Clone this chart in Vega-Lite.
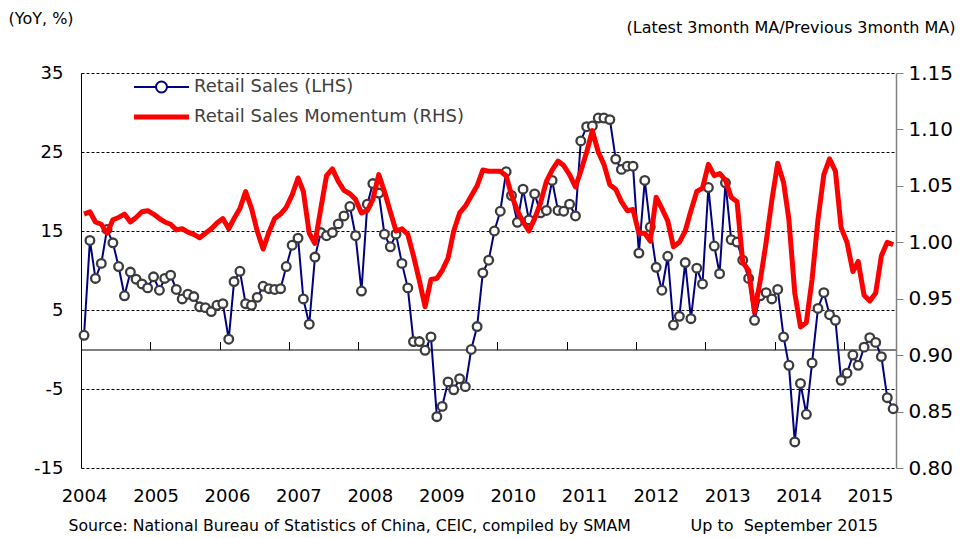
{
  "$schema": "https://vega.github.io/schema/vega-lite/v6.json",
  "width": 815,
  "height": 395,
  "autosize": "none",
  "padding": {"left": 81, "top": 73, "right": 75, "bottom": 70},
  "background": "white",
  "config": {"view": {"stroke": null}, "font": "DejaVu Sans"},
  "data": {"values": [
    {"month":"2004-01-01","rs":1.8,"mom":1.025},{"month":"2004-02-01","rs":13.8,"mom":1.027},{"month":"2004-03-01","rs":9.0,"mom":1.018},{"month":"2004-04-01","rs":10.9,"mom":1.016},{"month":"2004-05-01","rs":15.2,"mom":1.008},{"month":"2004-06-01","rs":13.5,"mom":1.020},{"month":"2004-07-01","rs":10.5,"mom":1.022},{"month":"2004-08-01","rs":6.8,"mom":1.025},{"month":"2004-09-01","rs":9.8,"mom":1.018},{"month":"2004-10-01","rs":8.9,"mom":1.022},{"month":"2004-11-01","rs":8.3,"mom":1.027},{"month":"2004-12-01","rs":7.8,"mom":1.028},
    {"month":"2005-01-01","rs":9.2,"mom":1.025},{"month":"2005-02-01","rs":7.5,"mom":1.021},{"month":"2005-03-01","rs":9.0,"mom":1.018},{"month":"2005-04-01","rs":9.4,"mom":1.016},{"month":"2005-05-01","rs":7.6,"mom":1.011},{"month":"2005-06-01","rs":6.4,"mom":1.012},{"month":"2005-07-01","rs":7.0,"mom":1.009},{"month":"2005-08-01","rs":6.7,"mom":1.007},{"month":"2005-09-01","rs":5.4,"mom":1.004},{"month":"2005-10-01","rs":5.3,"mom":1.008},{"month":"2005-11-01","rs":4.8,"mom":1.012},{"month":"2005-12-01","rs":5.6,"mom":1.017},
    {"month":"2006-01-01","rs":5.8,"mom":1.021},{"month":"2006-02-01","rs":1.3,"mom":1.012},{"month":"2006-03-01","rs":8.6,"mom":1.021},{"month":"2006-04-01","rs":9.9,"mom":1.030},{"month":"2006-05-01","rs":5.8,"mom":1.045},{"month":"2006-06-01","rs":5.6,"mom":1.030},{"month":"2006-07-01","rs":6.6,"mom":1.010},{"month":"2006-08-01","rs":8.0,"mom":0.994},{"month":"2006-09-01","rs":7.7,"mom":1.009},{"month":"2006-10-01","rs":7.6,"mom":1.021},{"month":"2006-11-01","rs":7.7,"mom":1.025},{"month":"2006-12-01","rs":10.5,"mom":1.031},
    {"month":"2007-01-01","rs":13.2,"mom":1.042},{"month":"2007-02-01","rs":14.1,"mom":1.057},{"month":"2007-03-01","rs":6.4,"mom":1.045},{"month":"2007-04-01","rs":3.2,"mom":1.008},{"month":"2007-05-01","rs":11.7,"mom":0.999},{"month":"2007-06-01","rs":14.8,"mom":1.030},{"month":"2007-07-01","rs":14.4,"mom":1.059},{"month":"2007-08-01","rs":14.8,"mom":1.065},{"month":"2007-09-01","rs":15.9,"mom":1.054},{"month":"2007-10-01","rs":16.9,"mom":1.046},{"month":"2007-11-01","rs":18.1,"mom":1.043},{"month":"2007-12-01","rs":14.4,"mom":1.038},
    {"month":"2008-01-01","rs":7.4,"mom":1.026},{"month":"2008-02-01","rs":18.4,"mom":1.028},{"month":"2008-03-01","rs":21.0,"mom":1.038},{"month":"2008-04-01","rs":19.8,"mom":1.060},{"month":"2008-05-01","rs":14.6,"mom":1.045},{"month":"2008-06-01","rs":13.0,"mom":1.027},{"month":"2008-07-01","rs":14.6,"mom":1.010},{"month":"2008-08-01","rs":10.9,"mom":1.012},{"month":"2008-09-01","rs":7.8,"mom":1.007},{"month":"2008-10-01","rs":1.0,"mom":0.988},{"month":"2008-11-01","rs":1.0,"mom":0.966},{"month":"2008-12-01","rs":-0.1,"mom":0.943},
    {"month":"2009-01-01","rs":1.6,"mom":0.967},{"month":"2009-02-01","rs":-8.5,"mom":0.968},{"month":"2009-03-01","rs":-7.2,"mom":0.975},{"month":"2009-04-01","rs":-4.1,"mom":0.986},{"month":"2009-05-01","rs":-5.1,"mom":1.010},{"month":"2009-06-01","rs":-3.7,"mom":1.026},{"month":"2009-07-01","rs":-4.7,"mom":1.032},{"month":"2009-08-01","rs":0.0,"mom":1.041},{"month":"2009-09-01","rs":2.9,"mom":1.050},{"month":"2009-10-01","rs":9.7,"mom":1.064},{"month":"2009-11-01","rs":11.3,"mom":1.063},{"month":"2009-12-01","rs":15.0,"mom":1.063},
    {"month":"2010-01-01","rs":17.5,"mom":1.063},{"month":"2010-02-01","rs":22.5,"mom":1.059},{"month":"2010-03-01","rs":19.5,"mom":1.042},{"month":"2010-04-01","rs":16.1,"mom":1.028},{"month":"2010-05-01","rs":20.3,"mom":1.018},{"month":"2010-06-01","rs":16.4,"mom":1.010},{"month":"2010-07-01","rs":19.7,"mom":1.021},{"month":"2010-08-01","rs":17.3,"mom":1.035},{"month":"2010-09-01","rs":17.6,"mom":1.054},{"month":"2010-10-01","rs":21.4,"mom":1.064},{"month":"2010-11-01","rs":17.6,"mom":1.072},{"month":"2010-12-01","rs":17.5,"mom":1.068},
    {"month":"2011-01-01","rs":18.4,"mom":1.060},{"month":"2011-02-01","rs":16.9,"mom":1.049},{"month":"2011-03-01","rs":26.4,"mom":1.063},{"month":"2011-04-01","rs":28.2,"mom":1.080},{"month":"2011-05-01","rs":28.3,"mom":1.099},{"month":"2011-06-01","rs":29.3,"mom":1.080},{"month":"2011-07-01","rs":29.3,"mom":1.069},{"month":"2011-08-01","rs":29.1,"mom":1.051},{"month":"2011-09-01","rs":24.1,"mom":1.047},{"month":"2011-10-01","rs":22.8,"mom":1.036},{"month":"2011-11-01","rs":23.2,"mom":1.028},{"month":"2011-12-01","rs":23.2,"mom":1.029},
    {"month":"2012-01-01","rs":12.2,"mom":1.008},{"month":"2012-02-01","rs":21.4,"mom":1.008},{"month":"2012-03-01","rs":15.5,"mom":1.001},{"month":"2012-04-01","rs":10.4,"mom":1.040},{"month":"2012-05-01","rs":7.5,"mom":1.030},{"month":"2012-06-01","rs":11.8,"mom":1.019},{"month":"2012-07-01","rs":3.1,"mom":0.996},{"month":"2012-08-01","rs":4.2,"mom":1.000},{"month":"2012-09-01","rs":11.0,"mom":1.010},{"month":"2012-10-01","rs":3.9,"mom":1.028},{"month":"2012-11-01","rs":10.3,"mom":1.045},{"month":"2012-12-01","rs":8.3,"mom":1.048},
    {"month":"2013-01-01","rs":20.5,"mom":1.069},{"month":"2013-02-01","rs":13.1,"mom":1.059},{"month":"2013-03-01","rs":9.6,"mom":1.061},{"month":"2013-04-01","rs":21.1,"mom":1.055},{"month":"2013-05-01","rs":13.9,"mom":1.040},{"month":"2013-06-01","rs":13.6,"mom":1.036},{"month":"2013-07-01","rs":11.3,"mom":0.982},{"month":"2013-08-01","rs":9.0,"mom":0.975},{"month":"2013-09-01","rs":3.7,"mom":0.938},{"month":"2013-10-01","rs":6.8,"mom":0.966},{"month":"2013-11-01","rs":7.2,"mom":1.000},{"month":"2013-12-01","rs":6.4,"mom":1.037},
    {"month":"2014-01-01","rs":7.6,"mom":1.070},{"month":"2014-02-01","rs":1.6,"mom":1.053},{"month":"2014-03-01","rs":-2.0,"mom":1.020},{"month":"2014-04-01","rs":-11.7,"mom":0.955},{"month":"2014-05-01","rs":-4.3,"mom":0.925},{"month":"2014-06-01","rs":-8.2,"mom":0.929},{"month":"2014-07-01","rs":-1.7,"mom":0.967},{"month":"2014-08-01","rs":5.2,"mom":1.020},{"month":"2014-09-01","rs":7.2,"mom":1.060},{"month":"2014-10-01","rs":4.4,"mom":1.074},{"month":"2014-11-01","rs":3.7,"mom":1.063},{"month":"2014-12-01","rs":-3.9,"mom":1.013},
    {"month":"2015-01-01","rs":-3.0,"mom":1.000},{"month":"2015-02-01","rs":-0.7,"mom":0.974},{"month":"2015-03-01","rs":-2.0,"mom":0.983},{"month":"2015-04-01","rs":0.3,"mom":0.953},{"month":"2015-05-01","rs":1.5,"mom":0.948},{"month":"2015-06-01","rs":0.9,"mom":0.955},{"month":"2015-07-01","rs":-0.9,"mom":0.988},{"month":"2015-08-01","rs":-6.1,"mom":1.000},{"month":"2015-09-01","rs":-7.5,"mom":0.998}
  ]},
  "layer": [
    {
      "mark": {"type": "line", "strokeWidth": 2},
      "encoding": {
        "x": {
          "field": "month", "type": "temporal",
          "scale": {"type": "utc", "domain": [{"year": 2003, "month": 12, "date": 16, "utc": true}, {"year": 2015, "month": 9, "date": 16, "utc": true}]},
          "axis": {
            "orient": "bottom",
            "values": [
              {"year": 2004, "month": 1, "date": 1, "utc": true},
              {"year": 2005, "month": 1, "date": 12, "utc": true},
              {"year": 2006, "month": 1, "date": 23, "utc": true},
              {"year": 2007, "month": 2, "date": 3, "utc": true},
              {"year": 2008, "month": 2, "date": 14, "utc": true},
              {"year": 2009, "month": 2, "date": 25, "utc": true},
              {"year": 2010, "month": 3, "date": 8, "utc": true},
              {"year": 2011, "month": 3, "date": 19, "utc": true},
              {"year": 2012, "month": 3, "date": 30, "utc": true},
              {"year": 2013, "month": 4, "date": 10, "utc": true},
              {"year": 2014, "month": 4, "date": 21, "utc": true},
              {"year": 2015, "month": 5, "date": 2, "utc": true}
            ],
            "format": "%Y",
            "domain": false, "ticks": false, "tickSize": 0, "grid": false,
            "labelFontSize": 18, "labelColor": "black", "labelPadding": 19,
            "labelFlush": false, "labelOverlap": false,
            "title": "Source: National Bureau of Statistics of China, CEIC, compiled by SMAM",
            "titleX": -13, "titleY": 57, "titleAlign": "left", "titleBaseline": "middle",
            "titleFontSize": 15.7, "titleFontWeight": "normal", "titleColor": "black"
          }
        },
        "y": {
          "field": "rs", "type": "quantitative",
          "scale": {"domain": [-15, 35], "nice": false, "zero": false},
          "axis": {
            "orient": "left",
            "values": [-15, -5, 5, 15, 25, 35],
            "labelExpr": "'' + datum.value",
            "labelFontSize": 18, "labelColor": "black", "labelPadding": 18,
            "ticks": false, "tickSize": 0,
            "domain": true, "domainColor": "black", "domainWidth": 1,
            "grid": true, "gridColor": "black", "gridDash": [3, 2], "gridWidth": 1, "gridOpacity": 1,
            "title": "(YoY, %)", "titleAngle": 0, "titleX": -73, "titleY": -55,
            "titleAlign": "left", "titleBaseline": "middle",
            "titleFontSize": 16, "titleFontWeight": "normal", "titleColor": "black"
          }
        },
        "color": {
          "datum": "Retail Sales (LHS)", "type": "nominal",
          "scale": {"domain": ["Retail Sales (LHS)", "Retail Sales Momentum (RHS)"], "range": ["#000080", "#ff0000"]},
          "legend": {
            "orient": "none", "legendX": 52, "legendY": -1, "title": null,
            "labelFontSize": 18, "labelColor": "#404040", "labelOffset": 23.5, "labelLimit": 400,
            "symbolType": "stroke", "symbolSize": 3025, "symbolStrokeWidth": 2, "symbolOffset": 19.5,
            "clipHeight": 30, "rowPadding": 0, "padding": 0,
            "encode": {
              "symbols": {
                "update": {
                  "shape": {"signal": "datum.value === 'Retail Sales (LHS)' ? 'M-1,0L-0.2,0M0.2,0L1,0M0.2,0A0.2,0.2,0,1,1,-0.2,0A0.2,0.2,0,1,1,0.2,0' : 'stroke'"},
                  "strokeWidth": {"signal": "datum.value === 'Retail Sales (LHS)' ? 2 : 5"},
                  "fill": {"value": "white"}
                }
              }
            }
          }
        }
      }
    },
    {
      "mark": {"type": "point", "filled": true, "fill": "white", "stroke": "#3c3c3c", "strokeWidth": 2.3, "size": 75, "opacity": 1},
      "encoding": {
        "x": {"field": "month", "type": "temporal", "axis": null},
        "y": {"field": "rs", "type": "quantitative", "scale": {"domain": [-15, 35], "nice": false, "zero": false}, "axis": null}
      }
    },
    {
      "mark": {"type": "line", "strokeWidth": 5, "strokeJoin": "round"},
      "encoding": {
        "x": {
          "field": "month", "type": "temporal",
          "axis": {
            "orient": "bottom", "offset": -118.5,
            "values": [
              {"year": 2004, "month": 12, "date": 16, "utc": true},
              {"year": 2005, "month": 12, "date": 16, "utc": true},
              {"year": 2006, "month": 12, "date": 16, "utc": true},
              {"year": 2007, "month": 12, "date": 16, "utc": true},
              {"year": 2008, "month": 12, "date": 16, "utc": true},
              {"year": 2009, "month": 12, "date": 16, "utc": true},
              {"year": 2010, "month": 12, "date": 16, "utc": true},
              {"year": 2011, "month": 12, "date": 16, "utc": true},
              {"year": 2012, "month": 12, "date": 16, "utc": true},
              {"year": 2013, "month": 12, "date": 16, "utc": true},
              {"year": 2014, "month": 12, "date": 16, "utc": true}
            ],
            "labels": false, "ticks": true, "tickSize": -8, "tickColor": "black", "tickWidth": 1,
            "domain": true, "domainColor": "black", "domainWidth": 1, "grid": false,
            "title": "Up to\u00a0\u00a0September 2015",
            "titleX": 609, "titleY": 175.5, "titleAlign": "left", "titleBaseline": "middle",
            "titleFontSize": 16, "titleFontWeight": "normal", "titleColor": "black"
          }
        },
        "y": {
          "field": "mom", "type": "quantitative",
          "scale": {"domain": [0.8, 1.15], "nice": false, "zero": false},
          "axis": {
            "orient": "right",
            "values": [0.8, 0.85, 0.9, 0.95, 1.0, 1.05, 1.1, 1.15],
            "format": ".2f",
            "labelFontSize": 20, "labelColor": "black", "labelPadding": 5,
            "ticks": true, "tickSize": 7, "tickColor": "#808080", "tickWidth": 1,
            "domain": true, "domainColor": "#808080", "domainWidth": 1.5, "grid": false,
            "title": "(Latest 3month MA/Previous 3month MA)", "titleAngle": 0,
            "titleX": 59, "titleY": -46, "titleAlign": "right", "titleBaseline": "middle",
            "titleFontSize": 16, "titleFontWeight": "normal", "titleColor": "black"
          }
        },
        "color": {"datum": "Retail Sales Momentum (RHS)", "type": "nominal"}
      }
    }
  ],
  "resolve": {"scale": {"y": "independent"}, "axis": {"x": "independent", "y": "independent"}}
}
